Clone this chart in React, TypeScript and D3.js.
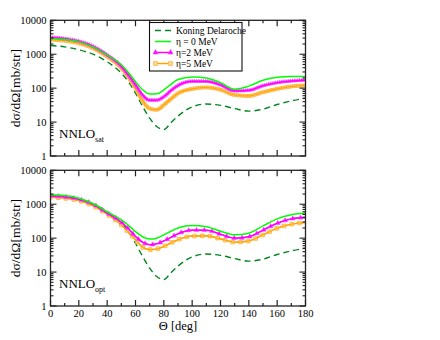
import React, { useEffect, useRef } from 'react';
import * as d3 from 'd3';

// scattering angles (deg) shared by every curve
const angles = [0, 10, 20, 30, 40, 50, 55, 60, 65, 70, 75, 80, 85, 90, 100, 110, 120, 130, 140, 150, 160, 170, 180];

// Koning Delaroche (same phenomenological curve in both panels)
const kdValues = [1800, 1650, 1350, 1000, 600, 275, 155, 71, 29, 13, 7.4, 6.0, 9.5, 15, 28, 34, 31, 25, 21, 24, 33, 42, 51];

// NNLO_sat
const sat0 = [2900, 2700, 2350, 1650, 950, 490, 290, 155, 90, 67, 68, 89, 130, 180, 214, 200, 145, 93, 115, 170, 208, 222, 220];
const sat2 = [3100, 2850, 2400, 1700, 950, 440, 240, 125, 63, 44, 44, 56, 85, 120, 158, 158, 125, 83, 86, 118, 145, 162, 172];
const sat5 = [2700, 2500, 2100, 1500, 850, 390, 210, 100, 42, 25, 23, 32, 48, 70, 95, 105, 90, 63, 59, 76, 95, 112, 120];

// NNLO_opt
const opt0 = [1900, 1800, 1500, 1050, 600, 345, 240, 155, 110, 94, 100, 125, 160, 200, 235, 218, 160, 125, 140, 230, 370, 490, 550];
const opt2 = [1750, 1650, 1400, 1000, 550, 295, 190, 112, 76, 64, 68, 83, 105, 135, 172, 172, 130, 100, 110, 172, 275, 370, 410];
const opt5 = [1600, 1500, 1280, 900, 510, 245, 150, 89, 54, 46, 48, 57, 72, 90, 115, 117, 95, 76, 83, 125, 197, 257, 290];

const legendLabels = ['Koning Delaroche', 'η = 0 MeV', 'η=2 MeV', 'η=5 MeV'];
const xTickLabels = [0, 20, 40, 60, 80, 100, 120, 140, 160, 180];
const yTickLabels = [1, 10, 100, 1000, 10000];

const W = 440;
const H = 340;
const FONT = '"Liberation Serif", "DejaVu Serif", serif';

const App = () => {
  const svgRef = useRef<SVGSVGElement>(null);

  useEffect(() => {
    const svg = d3.select(svgRef.current);
    svg.selectAll('*').remove();

    const left = 50.5;
    const right = 305.5;
    const x = d3.scaleLinear().domain([0, 180]).range([left, right]);

    const panels = [
      { top: 20.3, bottom: 156, sub: 'sat', series: [kdValues, sat0, sat2, sat5], markGap: 2.2, triSize: 6, sqSize: 8 },
      { top: 170.3, bottom: 306, sub: 'opt', series: [kdValues, opt0, opt2, opt5], markGap: 7.8, triSize: 10, sqSize: 13 },
    ];

    const styles = [
      { color: '#00861e', dash: '6,4', width: 1.4 },
      { color: '#00ff00', dash: null, width: 1.5 },
      { color: '#ff00ff', dash: null, width: 1.5 },
      { color: '#ffa500', dash: null, width: 1.5 },
    ];

    const drawMarker = (g, i, px, py, triSize, sqSize) => {
      if (i === 2) {
        g.append('path').attr('d', d3.symbol().type(d3.symbolTriangle).size(triSize)())
          .attr('transform', `translate(${px},${py})`)
          .attr('fill', '#ff00ff').attr('stroke', '#ff55ff').attr('stroke-width', 0.6);
      } else if (i === 3) {
        g.append('path').attr('d', d3.symbol().type(d3.symbolSquare).size(sqSize)())
          .attr('transform', `translate(${px},${py})`)
          .attr('fill', '#ffdca0').attr('stroke', '#ffb030').attr('stroke-width', 0.8);
      }
    };

    panels.forEach((p, pi) => {
      const y = d3.scaleLog().domain([1, 10000]).range([p.bottom, p.top]);
      const g = svg.append('g');

      const clipId = `clip${pi}`;
      svg.append('clipPath').attr('id', clipId).append('rect')
        .attr('x', left).attr('y', p.top).attr('width', right - left).attr('height', p.bottom - p.top);

      const line = d3.line<[number, number]>()
        .x(d => x(d[0]))
        .y(d => y(d[1]))
        .curve(d3.curveMonotoneX);

      const curves = g.append('g').attr('clip-path', `url(#${clipId})`);
      // KD first, then orange, pink and green on top
      const order = [0, 3, 2, 1];
      order.forEach(i => {
        const pts = angles.map((a, k) => [a, p.series[i][k]] as [number, number]);
        const st = styles[i];
        const path = curves.append('path')
          .attr('d', line(pts))
          .attr('fill', 'none')
          .attr('stroke', st.color)
          .attr('stroke-width', st.width)
          .attr('stroke-dasharray', st.dash);
        if (i >= 2) {
          const node = path.node() as SVGPathElement;
          const len = node.getTotalLength();
          const mg = curves.append('g');
          for (let l = 0; l <= len; l += p.markGap) {
            const pt = node.getPointAtLength(l);
            drawMarker(mg, i, pt.x, pt.y, p.triSize, p.sqSize);
          }
          // keep the line visible over the markers
          curves.append('path').attr('d', line(pts)).attr('fill', 'none')
            .attr('stroke', st.color).attr('stroke-width', 1.1);
        }
      });

      // frame
      g.append('rect')
        .attr('x', left).attr('y', p.top)
        .attr('width', right - left).attr('height', p.bottom - p.top)
        .attr('fill', 'none').attr('stroke', '#222').attr('stroke-width', 1.3);

      // x ticks (inward, top and bottom)
      d3.range(0, 181, 10).forEach(v => {
        const len = v % 20 === 0 ? 6 : 3;
        const xv = x(v);
        g.append('line').attr('x1', xv).attr('x2', xv).attr('y1', p.bottom).attr('y2', p.bottom - len)
          .attr('stroke', '#222').attr('stroke-width', 1.2);
        g.append('line').attr('x1', xv).attr('x2', xv).attr('y1', p.top).attr('y2', p.top + len)
          .attr('stroke', '#222').attr('stroke-width', 1.2);
      });

      // y ticks (log, inward, left and right)
      y.ticks().forEach(v => {
        const major = Math.abs(Math.log10(v) - Math.round(Math.log10(v))) < 1e-9;
        const len = major ? 6 : 3;
        const yv = y(v);
        g.append('line').attr('x1', left).attr('x2', left + len).attr('y1', yv).attr('y2', yv)
          .attr('stroke', '#222').attr('stroke-width', 1.1);
        g.append('line').attr('x1', right).attr('x2', right - len).attr('y1', yv).attr('y2', yv)
          .attr('stroke', '#222').attr('stroke-width', 1.1);
      });

      yTickLabels.forEach(v => {
        g.append('text').attr('x', left - 4).attr('y', y(v) + 3.5)
          .attr('text-anchor', 'end').attr('font-family', FONT).attr('font-size', 10.5)
          .text(String(v));
      });

      // y axis title
      g.append('text')
        .attr('transform', `translate(20,${(p.top + p.bottom) / 2}) rotate(-90)`)
        .attr('text-anchor', 'middle').attr('font-family', FONT).attr('font-size', 13.5)
        .text('dσ/dΩ[mb/str]');

      // panel label
      const lab = g.append('text').attr('x', 59).attr('y', p.bottom - 18)
        .attr('font-family', FONT).attr('font-size', 13);
      lab.append('tspan').text('NNLO');
      lab.append('tspan').attr('dy', 4).attr('font-size', 8).text(p.sub);

      if (pi === 1) {
        xTickLabels.forEach(v => {
          g.append('text').attr('x', x(v)).attr('y', p.bottom + 11)
            .attr('text-anchor', 'middle').attr('font-family', FONT).attr('font-size', 10.5)
            .text(String(v));
        });
        g.append('text').attr('x', (left + right) / 2).attr('y', p.bottom + 24)
          .attr('text-anchor', 'middle').attr('font-family', FONT).attr('font-size', 12.5)
          .text('Θ [deg]');
      }

      if (pi === 0) {
        const lg = g.append('g');
        lg.append('rect').attr('x', 149.5).attr('y', 22.5).attr('width', 92.5).attr('height', 48.5)
          .attr('fill', 'white').attr('stroke', '#111').attr('stroke-width', 1.1);
        legendLabels.forEach((t, i) => {
          const ly = 30.5 + i * 11;
          const st = styles[i];
          lg.append('line').attr('x1', 155).attr('x2', 171).attr('y1', ly).attr('y2', ly)
            .attr('stroke', st.color).attr('stroke-width', st.width).attr('stroke-dasharray', st.dash);
          if (i >= 2) {
            drawMarker(lg, i, 155.5, ly, 12, 14);
            drawMarker(lg, i, 170.5, ly, 12, 14);
          }
          lg.append('text').attr('x', 176).attr('y', ly + 3.5)
            .attr('font-family', FONT).attr('font-size', 9.5).text(t);
        });
      }
    });
  }, []);

  return (
    <svg ref={svgRef} width={W} height={H} viewBox={`0 0 ${W} ${H}`}
      style={{ position: 'absolute', left: 0, top: 0, background: 'white' }} />
  );
};

export default App;
